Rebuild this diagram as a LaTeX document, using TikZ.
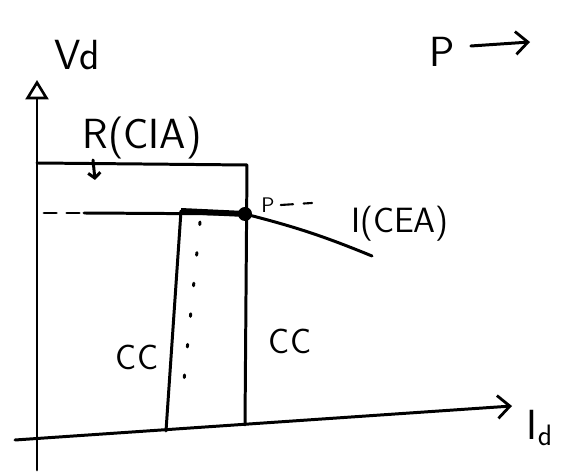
\documentclass[tikz,border=0pt]{standalone}
\usepackage{tikz}
\usetikzlibrary{arrows.meta,positioning,calc}

\begin{document}
\begin{tikzpicture}[x=0.02cm, y=-0.02cm,
        every node/.style={font=\sffamily},
        stroke/.style={line width=1.7pt, black, line cap=round, line join=round},
        axisopen/.style={stroke, -{Triangle[open, length=11pt, width=13pt, line width=1.5pt]}},
        axisbarb/.style={stroke, -{Straight Barb[length=7pt, width=13pt, line width=1.6pt]}},
        dashline/.style={stroke, dash pattern=on 7pt off 6pt},
        dotline/.style={stroke, dash pattern=on 1.5pt off 16pt},
        big/.style={font=\sffamily\fontsize{24}{26}\selectfont},
        mid/.style={font=\sffamily\fontsize{20}{22}\selectfont},
        tiny/.style={font=\sffamily\fontsize{12}{13}\selectfont}
      ]
        \useasboundingbox (0,0) rectangle (571,475);

        % Achsen
        \coordinate (ybot) at (37,470);
        \coordinate (ytip) at (37,80);
        \coordinate (xleft) at (15,440);
        \coordinate (xtip) at (512,406);
        \draw[axisopen] (ybot) -- (ytip);
        \draw[axisbarb] (xleft) -- (xtip);
        \node[big] (vd) at (77,55) {Vd};
        \node[big] (id) at (540,428) {I\textsubscript{d}};

        % Richtung P
        \node[big] (pdir) at (442,52) {P};
        \coordinate (parr) at (530,42);
        \draw[axisbarb] ($(pdir.east)+(10,-6)$) -- (parr);

        % aeusseres Rechteck (R)
        \coordinate (tl) at (37,163);
        \coordinate (tr) at (247,165);
        \coordinate (br) at (245,425);
        \draw[stroke] (tl) -- (tr) -- (br);
        \node[big] (rcia) at (142,138) {R(CIA)};
        \coordinate (rtop) at (93,160);
        \coordinate (rbot) at (95,180);
        \draw[stroke, -{Straight Barb[length=3pt, width=7pt]}] (rtop) -- (rbot);

        % Arbeitspunkt P und Kennlinie I
        \coordinate (P) at (245,214);
        \coordinate (dl) at (44,213);
        \coordinate (ds) at (84,213);
        \coordinate (iend) at (372,256);
        \draw[dashline] (dl) -- (ds);
        \draw[stroke] (ds) -- (P);
        \draw[stroke] (P) to[bend left=4] (iend);
        \fill (P) circle (7);
        \node[tiny] (plab) at (268,205) {P};
        \coordinate (pdash) at (312,203);
        \draw[dashline, line width=1.2pt] (plab.east) -- (pdash);
        \node[mid] (icea) at (400,224) {I(CEA)};

        % inneres Rechteck
        \coordinate (itl) at (181,211);
        \coordinate (ibl) at (166,431);
        \draw[stroke] (ibl) -- (itl);
        \draw[line width=3.4pt] (itl) -- (P);
        \coordinate (dtop) at (200,222);
        \coordinate (dbot) at (182,400);
        \draw[dotline] (dtop) -- (dbot);

        % Bereichsbezeichnungen
        \node[mid] (ccl) at (137,357) {CC};
        \node[mid] (ccr) at (290,341) {CC};
      \end{tikzpicture}
\end{document}
